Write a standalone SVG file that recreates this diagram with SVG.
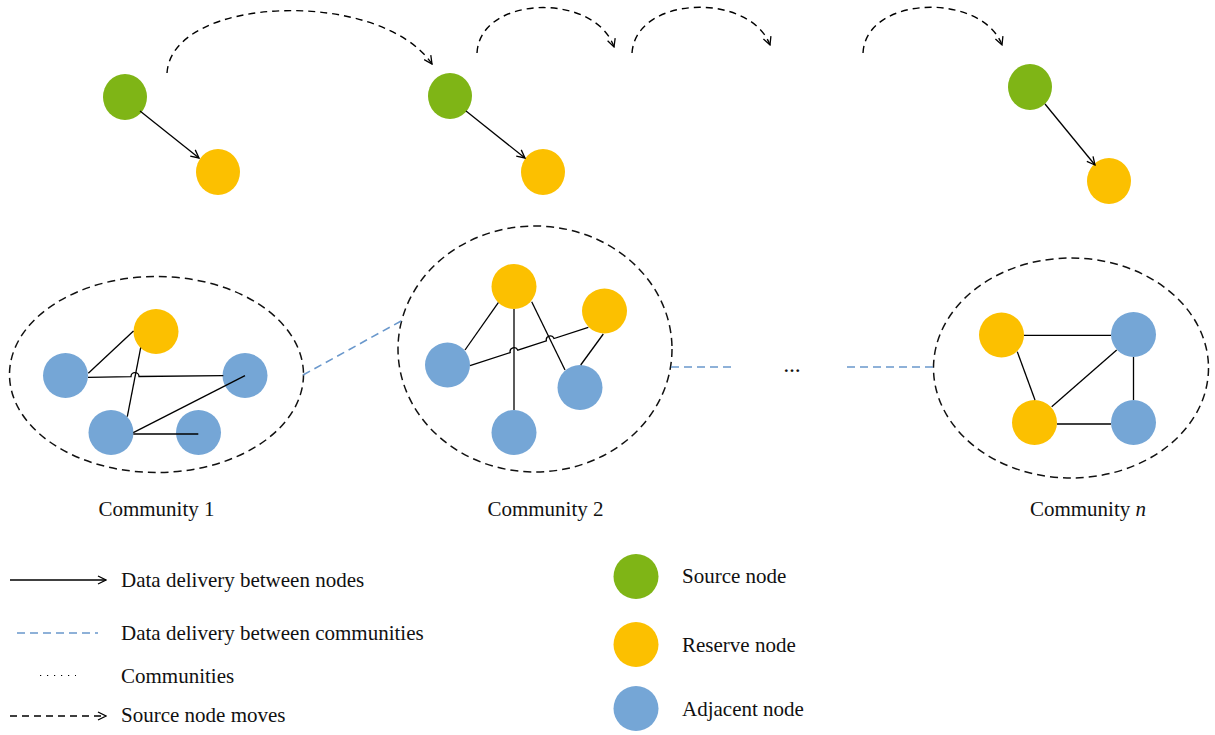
<svg xmlns="http://www.w3.org/2000/svg" width="1215" height="735" viewBox="0 0 1215 735">
<style>
.src{fill:#7fb516}
.res{fill:#fcc000}
.adj{fill:#75a6d6}
.edge{fill:none;stroke:#000;stroke-width:1.3}
.move{fill:none;stroke:#000;stroke-width:1.4;stroke-dasharray:7 5}
.comm{fill:none;stroke:#111;stroke-width:1.5;stroke-dasharray:8 5}
.inter{fill:none;stroke:#6a98cc;stroke-width:1.6;stroke-dasharray:8 5}
.lbl{font-family:"Liberation Serif",serif;font-size:21px;fill:#111}
</style>
<defs>
<marker id="arr" viewBox="0 0 10 10" refX="9" refY="5" markerWidth="10" markerHeight="10" orient="auto" markerUnits="userSpaceOnUse">
<path d="M1,1 L9,5 L1,9" fill="none" stroke="#000" stroke-width="1.3"/>
</marker>
</defs>

<!-- communities -->
<g id="community1">
<ellipse class="comm" cx="156.5" cy="374.5" rx="147" ry="98"/>
</g>
<g id="community2">
<ellipse class="comm" cx="535" cy="349" rx="137" ry="123"/>
</g>
<g id="communityN">
<ellipse class="comm" cx="1071" cy="368" rx="137.5" ry="110"/>
</g>

<!-- top nodes -->
<g id="top1">
<ellipse class="src" cx="125" cy="97" rx="22" ry="23"/>
<ellipse class="res" cx="218" cy="172" rx="22" ry="23"/>
</g>
<g id="top2">
<ellipse class="src" cx="450" cy="96" rx="22" ry="23"/>
<ellipse class="res" cx="543" cy="172" rx="22" ry="23"/>
</g>
<g id="top3">
<ellipse class="src" cx="1030" cy="87" rx="22" ry="23"/>
<ellipse class="res" cx="1109" cy="181" rx="22" ry="23"/>
</g>

<!-- community 1 nodes -->
<g id="c1-nodes">
<circle class="res" cx="156" cy="331.5" r="22.5"/>
<circle class="adj" cx="65.5" cy="375.5" r="22.5"/>
<circle class="adj" cx="245" cy="375.5" r="22.5"/>
<circle class="adj" cx="111" cy="432.5" r="22.5"/>
<circle class="adj" cx="198.5" cy="432.5" r="22.5"/>
</g>
<!-- community 2 nodes -->
<g id="c2-nodes">
<circle class="res" cx="514" cy="286.5" r="22.5"/>
<circle class="res" cx="604.5" cy="311" r="22.5"/>
<circle class="adj" cx="447.5" cy="365" r="22.5"/>
<circle class="adj" cx="580" cy="387.5" r="22.5"/>
<circle class="adj" cx="514" cy="432.5" r="22.5"/>
</g>
<!-- community n nodes -->
<g id="cn-nodes">
<circle class="res" cx="1001.5" cy="335" r="22.5"/>
<circle class="adj" cx="1133.5" cy="334.5" r="22.5"/>
<circle class="res" cx="1034.5" cy="422.5" r="22.5"/>
<circle class="adj" cx="1133.5" cy="422.5" r="22.5"/>
</g>

<g id="connectors">
<!-- source moves -->
<path class="move" d="M167 73 C172 -5 380 -12 432 64" marker-end="url(#arr)"/>
<path class="move" d="M477 53 C480 -5 595 -8 614 47" marker-end="url(#arr)"/>
<path class="move" d="M632 53 C636 -5 750 -8 770 45" marker-end="url(#arr)"/>
<path class="move" d="M863 53 C866 -5 982 -8 1002 45" marker-end="url(#arr)"/>
<!-- data delivery between nodes -->
<line class="edge" x1="140" y1="111" x2="199" y2="158" marker-end="url(#arr)"/>
<line class="edge" x1="466" y1="111" x2="525" y2="158" marker-end="url(#arr)"/>
<line class="edge" x1="1045" y1="104" x2="1095" y2="165" marker-end="url(#arr)"/>
<!-- community 1 edges -->
<line class="edge" x1="88.3" y1="373.3" x2="133.5" y2="331"/>
<path class="edge" d="M88 377.3 L131 376.6 A4 4 0 0 1 139 376.5 L223.3 375.7"/>
<line class="edge" x1="140.7" y1="347.7" x2="127.3" y2="416.7"/>
<line class="edge" x1="133.3" y1="432.7" x2="245" y2="375.7"/>
<line class="edge" x1="133.3" y1="434" x2="198.3" y2="434"/>
<!-- community 2 edges -->
<line class="edge" x1="498.3" y1="302.7" x2="465" y2="350"/>
<line class="edge" x1="514" y1="309" x2="514" y2="410"/>
<line class="edge" x1="531.7" y1="301.7" x2="565" y2="370"/>
<path class="edge" d="M470 365.7 L510.2 352.6 A4 4 0 0 1 517.8 350.2 L546.4 340.9 A4 4 0 0 1 554 338.5 L588.3 327.3"/>
<line class="edge" x1="603.3" y1="334" x2="580.7" y2="365"/>
<!-- community n edges -->
<line class="edge" x1="1024" y1="335.3" x2="1111" y2="335.3"/>
<line class="edge" x1="1017.3" y1="351.7" x2="1035" y2="400"/>
<line class="edge" x1="1051.7" y1="406.7" x2="1116.7" y2="350"/>
<line class="edge" x1="1057" y1="424" x2="1111" y2="424"/>
<line class="edge" x1="1133.5" y1="357" x2="1133.5" y2="400"/>
<!-- between communities -->
<line class="inter" x1="303" y1="375" x2="403" y2="320"/>
<line class="inter" x1="671" y1="367" x2="733" y2="367"/>
<line class="inter" x1="847" y1="367" x2="934" y2="367"/>
</g>

<g id="labels">
<text class="lbl" x="792" y="372" text-anchor="middle" style="font-size:17px;font-weight:bold">…</text>
<text class="lbl" x="156.5" y="516" text-anchor="middle">Community 1</text>
<text class="lbl" x="545.5" y="516" text-anchor="middle">Community 2</text>
<text class="lbl" x="1088" y="516" text-anchor="middle">Community <tspan font-style="italic">n</tspan></text>
</g>

<g id="legend">
<line class="edge" x1="10" y1="580" x2="106" y2="580" marker-end="url(#arr)"/>
<text class="lbl" x="121" y="586.5">Data delivery between nodes</text>
<line class="inter" x1="17" y1="633" x2="98" y2="633"/>
<text class="lbl" x="121" y="639.5">Data delivery between communities</text>
<line x1="40" y1="675.5" x2="76" y2="675.5" stroke="#000" stroke-width="1.2" stroke-dasharray="1.2 5.8"/>
<text class="lbl" x="121" y="683">Communities</text>
<line class="move" x1="10" y1="716" x2="106" y2="716" marker-end="url(#arr)"/>
<text class="lbl" x="121" y="722">Source node moves</text>
<circle class="src" cx="636" cy="576.5" r="22.5"/>
<text class="lbl" x="682" y="583">Source node</text>
<circle class="res" cx="636" cy="644.5" r="22.5"/>
<text class="lbl" x="682" y="652">Reserve node</text>
<circle class="adj" cx="636" cy="708.5" r="22.5"/>
<text class="lbl" x="682" y="715.5">Adjacent node</text>
</g>
</svg>
